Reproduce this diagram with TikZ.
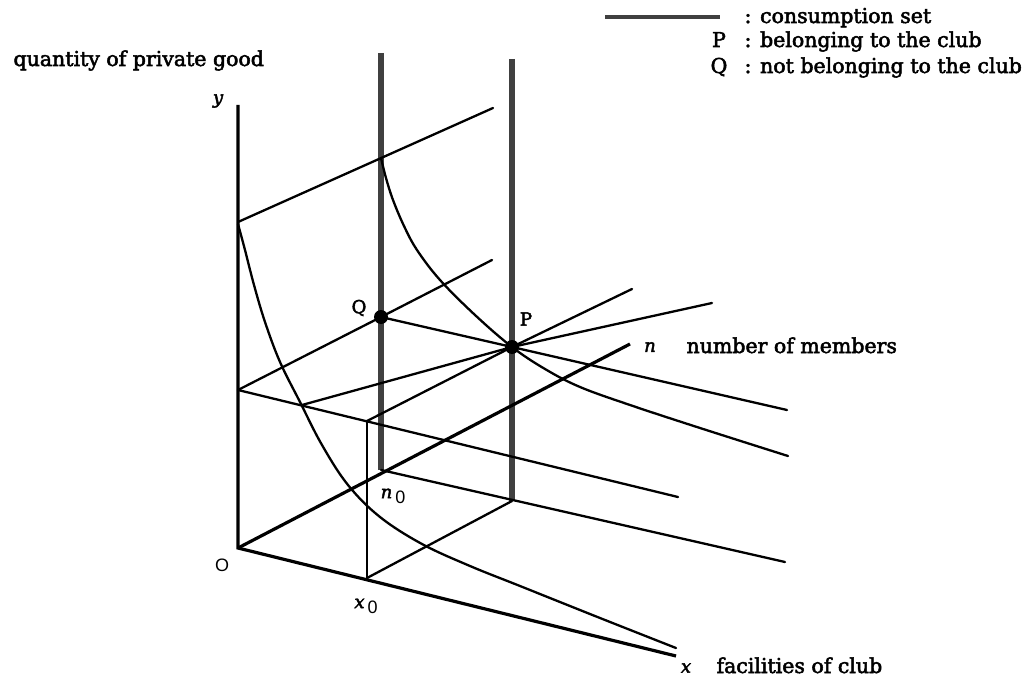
\documentclass[tikz,border=0pt]{standalone}
\usepackage{xcolor}
\usepackage{fontspec}
\setmainfont{DejaVu Serif}[FakeBold=2.5]
\newfontfamily\sanslab{Liberation Sans}

\begin{document}
\begin{tikzpicture}[x=1pt, y=-1pt, font=\fontsize{20.5}{24}\selectfont,
  axis/.style={line width=3.2pt},
  edge/.style={line width=2.3pt, line cap=round},
  guide/.style={line width=1.3pt},
  cset/.style={line width=6.5pt, draw=black!75},
  dot/.style={circle, fill=black, inner sep=0pt, minimum size=14pt},
  tag/.style={inner sep=0pt, font=\fontsize{18}{21}\selectfont}]
\useasboundingbox (0,0) rectangle (1035,679);

\coordinate (O) at (238,548);
\coordinate (ytip) at (238,105);
\coordinate (xtip) at (676,656);
\coordinate (ntip) at (630,344);
\coordinate (n0) at (381,470);
\coordinate (x0) at (367,578);
\coordinate (corner) at (512,501);
\coordinate (A) at (238,390);
\coordinate (B) at (367,421);
\coordinate (T) at (238,222);
\coordinate (Tend) at (493,108);
\coordinate (Qend) at (492,260);
\coordinate (Ls) at (302,405);
\coordinate (Le) at (712,303);
\coordinate (Be) at (632,289);
\coordinate (Pe) at (787,410);
\coordinate (Ae) at (678,497);
\coordinate (n0e) at (785,562);
\coordinate (setQ) at (381,53);
\coordinate (setP) at (512,59);
\coordinate (Q) at (381,317);
\coordinate (P) at (512,347);

\draw[cset] (setQ) -- (n0);
\draw[cset] (setP) -- (corner);

\draw[axis] (ytip) -- (O) -- (xtip);
\draw[axis] (O) -- (ntip);
\draw[edge] (n0) -- (n0e);
\draw[edge] (x0) -- (corner);
\draw[guide] (x0) -- (B);
\draw[edge] (A) -- (Ae);
\draw[edge] (A) -- (Q) -- (Qend);
\draw[edge] (T) -- (Tend);
\draw[edge] (Q) -- (P) -- (Pe);
\draw[edge] (B) -- (P) -- (Be);
\draw[edge] (Ls) -- (P) -- (Le);

\draw[edge] plot[smooth, tension=0.6] coordinates {(238,224) (245,250) (254,285) (265,322) (280,362) (300,402) (322,445) (348,485) (380,517) (422,544) (470,566) (520,586) (600,618) (676,648)};
\draw[edge] plot[smooth, tension=0.6] coordinates {(381,158) (386,178) (393,200) (404,226) (417,250) (440,280) (475,315) (512,347) (545,369) (580,387) (630,405) (700,428) (788,456)};

\node[dot] (dotQ) at (Q) {};
\node[dot] (dotP) at (P) {};

\node[anchor=base west] (ylab) at (10,66) {quantity of private good};
\node[tag] (ytag) at (218,101) {\itshape y};
\node[tag] (otag) at (222,565) {\sanslab O};
\node[tag] (x0tag) at (366,606) {{\itshape x}\,\raisebox{-5pt}{\sanslab 0}};
\node[tag] (n0tag) at (393,496) {{\itshape n}\,\raisebox{-5pt}{\sanslab 0}};
\node[tag] (qtag) at (359,308) {Q};
\node[tag] (ptag) at (526,319) {P};
\node[tag] (ntag) at (650,347) {\itshape n};
\node[anchor=base west] (nlab) at (683,353) {number of members};
\node[tag] (xtag) at (686,668) {\itshape x};
\node[anchor=base west] (xlab) at (713,673) {facilities of club};

\draw[cset, line width=4pt] (605,17) -- (720,17);
\node[anchor=base west] (setlab) at (741,23) {: consumption set};
\node[anchor=base] (plab) at (719,47) {P};
\node[anchor=base west] (pclub) at (741,47) {: belonging to the club};
\node[anchor=base] (qlab) at (719,73) {Q};
\node[anchor=base west] (qclub) at (741,73) {: not belonging to the club};
\end{tikzpicture}
\end{document}
